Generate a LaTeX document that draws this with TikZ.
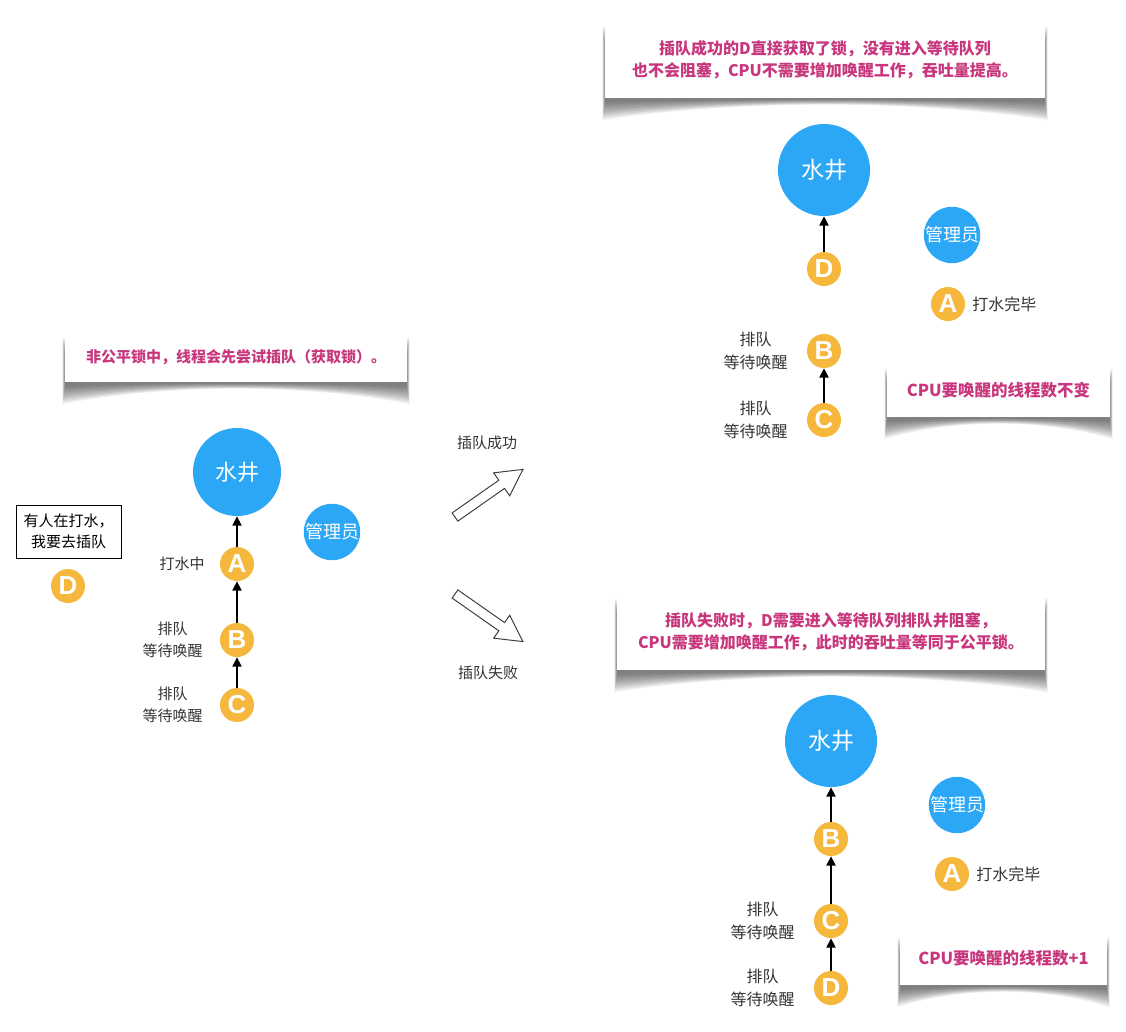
\documentclass[tikz,border=0pt]{standalone}
\usepackage{fontspec}
\setmainfont{Noto Sans CJK SC}
\newfontfamily\letterfont{Liberation Sans}
\usetikzlibrary{positioning,arrows.meta}

\definecolor{wellblue}{RGB}{44,167,246}
\definecolor{qorange}{RGB}{245,183,60}
\definecolor{notepink}{RGB}{200,55,125}
\definecolor{labelgray}{RGB}{51,51,51}

\tikzset{
  well/.style={circle, fill=wellblue, text=white, inner sep=0pt, minimum size=88pt, font=\fontsize{22}{22}\selectfont},
  keeper/.style={circle, fill=wellblue, text=white, inner sep=0pt, minimum size=54pt, font=\fontsize{18}{18}\selectfont},
  person/.style={circle, fill=qorange, text=white, inner sep=0pt, minimum size=34pt, font=\letterfont\bfseries\fontsize{26}{26}\selectfont},
  waitlab/.style={align=center, inner sep=0pt, text=labelgray, font=\fontsize{15}{22}\selectfont},
  waitlabR/.style={align=center, inner sep=0pt, text=labelgray, font=\fontsize{16}{23}\selectfont},
  thinkbox/.style={draw, line width=0.9pt, align=center, inner sep=0pt, minimum width=105pt, minimum height=53pt, font=\fontsize{15}{21}\selectfont},
  banner/.style={fill=white, align=center, inner sep=0pt, text=notepink},
  qarr/.style={-{Triangle[length=9.5pt,width=9pt]}, line width=2pt},
  bigarr/.style={draw=black!75, line width=1pt, fill=white}
}

% curled note: name, x1, y1, x2, y2, font size, text
\newcommand\banner[7]{%
  \foreach \k in {0,...,9}{%
    \fill[black, opacity=0.065] ({#2-2.5+\k*0.3},{#3+6+\k*2}) -- ({#2-2.5+\k*0.3},{#5+22-\k*1.9})
      .. controls ({#2+0.3*(#4-#2)},{#5+1.5-\k*0.1}) and ({#4-0.3*(#4-#2)},{#5+1.5-\k*0.1}) ..
      ({#4+2.5-\k*0.3},{#5+22-\k*1.9}) -- ({#4+2.5-\k*0.3},{#3+6+\k*2}) -- cycle;
  }
  \node[banner, minimum width={(#4-#2)*1pt}, minimum height={(#5-#3)*1pt}, font=\bfseries\fontsize{#6}{22}\selectfont] (#1) at ({(#2+#4)/2},{(#3+#5)/2}) {#7};
}

\begin{document}
\begin{tikzpicture}[x=1pt,y=-1pt]
  \useasboundingbox (0,0) rectangle (1126,1031);

  % left: before
  \banner{noteL}{65}{332}{407}{382}{15}{非公平锁中，线程会先尝试插队（获取锁）。}
  \node[well] (wellL) at (237,472) {水井};
  \node[keeper] (keeperL) at (332,532) {管理员};
  \node[person] (aL) at (237,564) {A};
  \node[person] (bL) at (237,640) {B};
  \node[person] (cL) at (237,705) {C};
  \node[person] (dL) at (68,586) {D};
  \node[thinkbox] (thinkD) at (68.5,531.5) {有人在打水，\\我要去插队};
  \node[waitlab, left=15pt of aL] (labAL) {打水中};
  \node[waitlab, left=17pt of bL] (labBL) {排队\\等待唤醒};
  \node[waitlab, left=17pt of cL] (labCL) {排队\\等待唤醒};
  \draw[qarr] (aL) -- (wellL);
  \draw[qarr] (bL) -- (aL);
  \draw[qarr] (cL) -- (bL);

  % hollow arrows
  \begin{scope}[shift={(455,517)}, rotate=35]
    \draw[bigarr] (0,-5) -- (57,-5) -- (57,-14) -- (83,0) -- (57,14) -- (57,5) -- (0,5) -- cycle;
  \end{scope}
  \begin{scope}[shift={(455,594)}, rotate=-35]
    \draw[bigarr] (0,-5) -- (57,-5) -- (57,-14) -- (83,0) -- (57,14) -- (57,5) -- (0,5) -- cycle;
  \end{scope}
  \node[waitlab] (labOK) at (487,443) {插队成功};
  \node[waitlab] (labFail) at (488,673) {插队失败};

  % right top: success
  \banner{noteOK}{605}{21}{1045}{98}{16}{插队成功的D直接获取了锁，没有进入等待队列\\也不会阻塞，CPU不需要增加唤醒工作，吞吐量提高。}
  \node[well, minimum size=92pt, font=\fontsize{23}{23}\selectfont] (wellT) at (824,170) {水井};
  \node[keeper, minimum size=56pt] (keeperT) at (952,235) {管理员};
  \node[person] (dT) at (824,269) {D};
  \node[person] (aT) at (948,304) {A};
  \node[person] (bT) at (824,351) {B};
  \node[person] (cT) at (824,420) {C};
  \node[waitlabR, right=7pt of aT] (labAT) {打水完毕};
  \node[waitlabR, left=19pt of bT] (labBT) {排队\\等待唤醒};
  \node[waitlabR, left=19pt of cT] (labCT) {排队\\等待唤醒};
  \draw[qarr] (dT) -- (wellT);
  \draw[qarr] (cT) -- (bT);
  \banner{cpuT}{887}{363}{1110}{417}{16.5}{CPU要唤醒的线程数不变}

  % right bottom: failure
  \banner{noteFail}{617}{593}{1045}{670}{16}{插队失败时，D需要进入等待队列排队并阻塞，\\CPU需要增加唤醒工作，此时的吞吐量等同于公平锁。}
  \node[well, minimum size=92pt, font=\fontsize{23}{23}\selectfont] (wellB) at (831,741) {水井};
  \node[keeper, minimum size=56pt] (keeperB) at (957,805) {管理员};
  \node[person] (bB) at (831,839) {B};
  \node[person] (aB) at (952,874) {A};
  \node[person] (cB) at (831,921) {C};
  \node[person] (dB) at (831,988) {D};
  \node[waitlabR, right=7pt of aB] (labAB) {打水完毕};
  \node[waitlabR, left=19pt of cB] (labCB) {排队\\等待唤醒};
  \node[waitlabR, left=19pt of dB] (labDB) {排队\\等待唤醒};
  \draw[qarr] (bB) -- (wellB);
  \draw[qarr] (cB) -- (bB);
  \draw[qarr] (dB) -- (cB);
  \banner{cpuB}{900}{932}{1107}{985}{16.5}{CPU要唤醒的线程数+1}
\end{tikzpicture}
\end{document}
